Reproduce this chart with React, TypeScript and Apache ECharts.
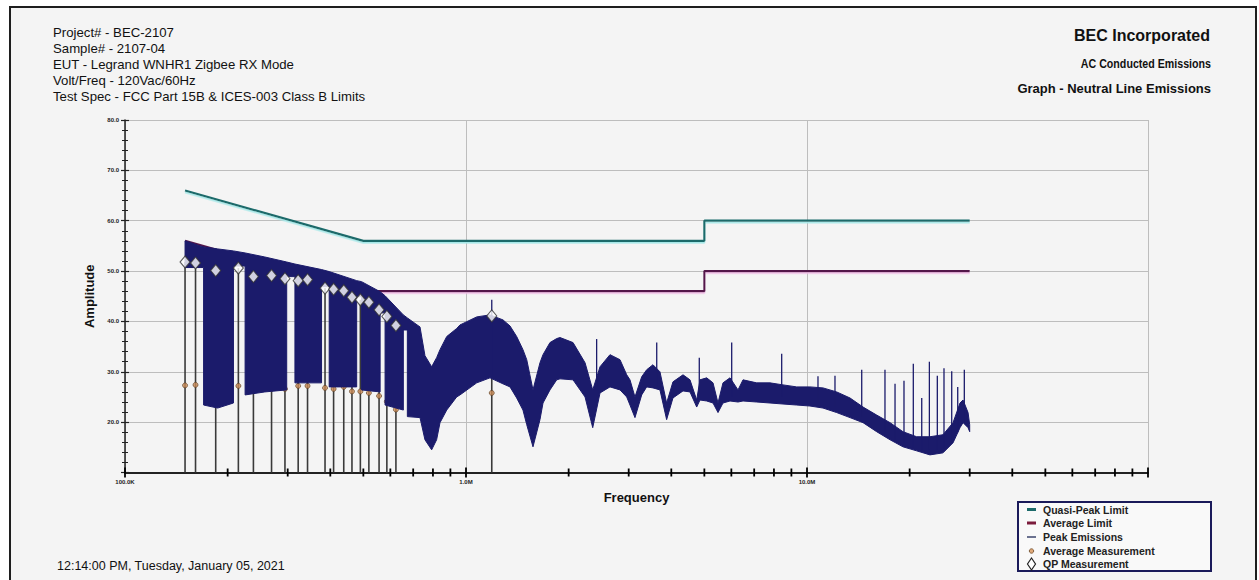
import React, { useEffect, useRef } from 'react';
import * as echarts from 'echarts';

const FONT = 'Liberation Sans, Arial, sans-serif';

// Header / footer texts
const headerLines = [
  'Project# - BEC-2107',
  'Sample# - 2107-04',
  'EUT - Legrand WNHR1 Zigbee RX Mode',
  'Volt/Freq - 120Vac/60Hz',
  'Test Spec - FCC Part 15B & ICES-003 Class B Limits',
];
const companyName = 'BEC Incorporated';
const reportTitle = 'AC Conducted Emissions';
const graphTitle = 'Graph - Neutral Line Emissions';
const timestamp = '12:14:00 PM, Tuesday, January 05, 2021';

// Axis ticks and labels (frequency in MHz, amplitude in dB)
const xMajorTicks = [0.1, 1, 10, 100];
const xTickLabels = ['100.0K', '1.0M', '10.0M', ''];
const xMinorTicks = [
  0.2, 0.3, 0.4, 0.5, 0.6, 0.7, 0.8, 0.9,
  2, 3, 4, 5, 6, 7, 8, 9,
  20, 30, 40, 50, 60, 70, 80, 90,
];

// Limits (MHz, dB)
const limitFreq = [0.15, 0.5, 5, 5, 30];
const qpLimit = [66, 56, 56, 60, 60];
const avgLimit = [56, 46, 46, 50, 50];

// Peak emissions trace: envelope (MHz, upper dB, lower dB)
const peakFreq = [
  0.150, 0.166, 0.170, 0.170, 0.187, 0.208, 0.208, 0.225, 0.225, 0.257,
  0.298, 0.298, 0.315, 0.315, 0.377, 0.377, 0.397, 0.397, 0.478, 0.478,
  0.494, 0.494, 0.560, 0.560, 0.579, 0.579, 0.655, 0.655, 0.673, 0.673,
  0.733, 0.758, 0.793, 0.820, 0.839, 0.878, 0.939, 0.960, 1.075, 1.176,
  1.284, 1.346, 1.408, 1.469, 1.507, 1.572, 1.648, 1.682, 1.763, 1.845,
  1.887, 2.060, 2.234, 2.353, 2.472, 2.644, 2.829, 2.960, 3.026, 3.130,
  3.275, 3.387, 3.534, 3.705, 3.876, 4.045, 4.329, 4.538, 4.748, 4.855,
  5.080, 5.301, 5.483, 5.671, 5.946, 6.276, 6.492, 7.120, 7.791, 8.504,
  9.329, 10.20, 11.14, 12.22, 13.37, 14.60, 16.01, 17.52, 19.12, 20.97,
  22.94, 25.05, 26.81, 28.10, 28.68, 29.67, 30.0,
];
const peakUpper = [
  56.0, 55.0, 54.8, 54.8, 54.4, 54.0, 54.0, 53.6, 53.6, 52.8,
  51.8, 51.8, 51.4, 51.4, 50.3, 50.3, 49.9, 49.9, 48.1, 48.1,
  47.9, 47.9, 45.9, 45.9, 45.1, 45.1, 41.3, 41.3, 40.7, 40.7,
  38.9, 33.2, 31.0, 32.8, 34.4, 37.0, 38.6, 39.3, 40.9, 41.3,
  40.3, 39.1, 37.0, 34.4, 32.4, 26.4, 31.8, 33.4, 35.8, 36.6,
  36.8, 35.8, 31.8, 26.4, 31.0, 33.4, 32.4, 29.4, 28.4, 25.0,
  29.0, 30.4, 31.4, 30.0, 23.8, 28.0, 29.4, 28.4, 24.4, 28.4,
  28.8, 27.8, 23.8, 27.8, 28.8, 26.4, 28.4, 27.8, 27.8, 27.4,
  27.0, 27.0, 26.8, 26.0, 24.8, 23.0, 21.4, 19.9, 18.1, 17.1,
  17.1, 17.5, 19.9, 23.8, 24.4, 21.9, 19.5,
];
const peakLower = [
  50.7, 50.7, 50.7, 23.4, 22.8, 23.8, 51.0, 51.0, 25.4, 26.0,
  26.4, 48.9, 48.9, 27.8, 27.8, 46.9, 46.9, 27.0, 27.0, 44.9,
  44.9, 26.4, 26.0, 41.7, 41.7, 23.4, 22.4, 38.3, 38.3, 21.1,
  20.9, 16.5, 14.5, 16.5, 19.9, 22.4, 25.0, 25.4, 27.8, 28.8,
  27.6, 27.0, 24.8, 22.4, 19.5, 15.1, 20.5, 23.8, 26.4, 28.4,
  28.6, 28.4, 25.0, 18.9, 25.8, 27.0, 26.4, 25.0, 23.4, 20.9,
  25.4, 27.0, 26.8, 26.4, 20.5, 24.8, 26.2, 26.0, 23.0, 24.4,
  24.2, 23.8, 21.9, 23.8, 24.2, 24.0, 24.2, 24.0, 23.8, 23.6,
  23.4, 23.2, 22.8, 21.9, 20.9, 19.9, 18.1, 16.5, 15.1, 14.3,
  13.5, 13.9, 15.9, 18.9, 19.9, 18.9, 18.1,
];

// Narrow peak spikes (MHz, top dB, base dB)
const spikeFreq = [1.19, 2.416, 3.625, 4.832, 6.014, 8.429, 10.77, 12.08, 14.47, 16.93,
  18.12, 19.25, 20.50, 21.70, 22.85, 24.11, 25.22, 26.57, 27.67, 28.93];
const spikeTop = [44.3, 36.5, 35.8, 32.8, 35.8, 33.6, 29.1, 29.2, 30.4, 30.4,
  27.6, 28.2, 31.6, 24.8, 32.0, 29.2, 30.7, 30.1, 27.0, 30.4];
const spikeBase = [29.0, 27.0, 27.0, 25.0, 25.0, 25.0, 24.0, 23.0, 21.0, 18.0,
  16.5, 16.0, 15.0, 14.5, 14.5, 14.5, 15.0, 16.0, 18.0, 20.0];

// Measurements (MHz, dB)
const measFreq = [0.150, 0.161, 0.1845, 0.215, 0.238, 0.269, 0.2945, 0.322, 0.343, 0.386,
  0.409, 0.438, 0.463, 0.490, 0.519, 0.556, 0.586, 0.623, 1.19];
const qpLevel = [51.8, 51.6, 50.1, 50.6, 48.9, 49.1, 48.5, 48.1, 48.3, 46.6,
  46.4, 46.1, 44.8, 44.3, 43.8, 42.3, 41.0, 39.2, 41.1];
const avgLevel = [27.3, 27.4, 26.0, 27.2, 26.2, 26.6, 26.6, 27.2, 27.2, 26.8,
  26.6, 27.0, 26.1, 26.1, 25.8, 25.2, 24.1, 22.5, 25.8];

const legendNames = ['Quasi-Peak Limit', 'Average Limit', 'Peak Emissions', 'Average Measurement', 'QP Measurement'];

const NAVY = '#1b1b6b';
const TEAL = '#1d6b6b';
const PLUM = '#53164a';
const Y_MIN = 10;

function buildOption(): any {
  const legendX = 1018;
  const legendY = 502;
  const rowY = [7.5, 21, 35, 49, 62];
  const legendChildren: any[] = [
    { type: 'rect', shape: { x: 0, y: 0, width: 193, height: 69 }, style: { fill: '#f9f9f9', stroke: '#1a1a5a', lineWidth: 2 } },
    { type: 'line', shape: { x1: 9, y1: rowY[0], x2: 18, y2: rowY[0] }, style: { stroke: TEAL, lineWidth: 3 } },
    { type: 'line', shape: { x1: 9, y1: rowY[1], x2: 18, y2: rowY[1] }, style: { stroke: '#7b1c3c', lineWidth: 3 } },
    { type: 'line', shape: { x1: 9, y1: rowY[2], x2: 18, y2: rowY[2] }, style: { stroke: '#6b7290', lineWidth: 2 } },
    { type: 'circle', shape: { cx: 13.5, cy: rowY[3], r: 2.2 }, style: { fill: '#e0a878', stroke: '#6b4a2a', lineWidth: 0.8 } },
    { type: 'polygon', shape: { points: [[13.5, rowY[4] - 6], [17.5, rowY[4]], [13.5, rowY[4] + 6], [9.5, rowY[4]]] }, style: { fill: '#ffffff', stroke: '#222', lineWidth: 1.2 } },
  ];
  legendNames.forEach((n, i) => {
    legendChildren.push({
      type: 'text', x: 25, y: rowY[i],
      style: { text: n, fontSize: 10.5, fontWeight: 'bold', fontFamily: FONT, fill: '#222', textVerticalAlign: 'middle' },
    });
  });

  const graphic: any[] = [
    { type: 'rect', z: -10, silent: true, shape: { x: 10, y: 7, width: 1246, height: 600 }, style: { fill: '#f4f4f4', stroke: '#1e1e1e', lineWidth: 2 } },
    ...headerLines.map((t, i) => ({
      type: 'text', z: 100, x: 53, y: 32 + i * 16.2,
      style: { text: t, fontSize: 13.2, fontFamily: FONT, fill: '#111', textVerticalAlign: 'middle' },
    })),
    { type: 'text', z: 100, x: 1210, y: 35, style: { text: companyName, fontSize: 16, fontWeight: 'bold', fontFamily: FONT, fill: '#111', textAlign: 'right', textVerticalAlign: 'middle' } },
    { type: 'text', z: 100, x: 1211, y: 64, scaleX: 0.82, style: { text: reportTitle, fontSize: 13, fontWeight: 'bold', fontFamily: FONT, fill: '#111', textAlign: 'right', textVerticalAlign: 'middle' } },
    { type: 'text', z: 100, x: 1211, y: 88, style: { text: graphTitle, fontSize: 13, fontWeight: 'bold', fontFamily: FONT, fill: '#111', textAlign: 'right', textVerticalAlign: 'middle' } },
    { type: 'text', z: 100, x: 57, y: 566, style: { text: timestamp, fontSize: 12.5, fontFamily: FONT, fill: '#111', textVerticalAlign: 'middle' } },
    { type: 'group', z: 100, x: legendX, y: legendY, children: legendChildren },
  ];

  const xTicksData = [
    ...xMajorTicks.map((f) => [f, Y_MIN, 1]),
    ...xMinorTicks.map((f) => [f, Y_MIN, 0]),
  ];

  return {
    animation: false,
    backgroundColor: '#ffffff',
    textStyle: { fontFamily: FONT },
    grid: { left: 125, right: 111, top: 120, bottom: 107.5 },
    xAxis: {
      type: 'log', logBase: 10, min: 0.1, max: 100,
      name: 'Frequency', nameLocation: 'middle', nameGap: 18,
      nameTextStyle: { fontSize: 13, fontWeight: 'bold', color: '#111', fontFamily: FONT },
      axisLine: { show: true, lineStyle: { color: '#222', width: 2 } },
      axisTick: { show: false },
      axisLabel: {
        fontSize: 6, fontWeight: 'bold', color: '#222', margin: 6,
        formatter: (v: number) => {
          const idx = Math.round(Math.log10(v)) + 1;
          return xTickLabels[idx] ?? '';
        },
      },
      splitLine: { show: true, lineStyle: { color: '#bdbdbd', width: 1 } },
    },
    yAxis: [
      {
        type: 'value', min: Y_MIN, max: 80, interval: 10,
        name: 'Amplitude', nameLocation: 'middle', nameGap: 28,
        nameTextStyle: { fontSize: 13, fontWeight: 'bold', color: '#111', fontFamily: FONT },
        axisLine: { show: true, lineStyle: { color: '#222', width: 1.5 } },
        axisTick: { show: true, length: 4, lineStyle: { color: '#222', width: 1.2 } },
        minorTick: { show: true, splitNumber: 5, length: 3, lineStyle: { color: '#222', width: 1 } },
        axisLabel: {
          fontSize: 6, fontWeight: 'bold', color: '#222', margin: 6,
          formatter: (v: number) => (v === Y_MIN ? '' : v.toFixed(1)),
        },
        splitLine: { show: true, lineStyle: { color: '#bdbdbd', width: 1 } },
      },
      {
        type: 'value', min: Y_MIN, max: 80, interval: 10, position: 'left', offset: 0,
        axisLine: { show: false },
        axisTick: { show: true, inside: true, length: 4, lineStyle: { color: '#222', width: 1.2 } },
        minorTick: { show: true, splitNumber: 5, length: 3, lineStyle: { color: '#222', width: 1 } },
        axisLabel: { show: false },
        splitLine: { show: false },
      },
    ],
    series: [
      {
        name: 'x ticks', type: 'custom', z: 8, silent: true, clip: false,
        data: xTicksData,
        encode: { x: 0, y: 1 },
        renderItem: (params: any, api: any) => {
          const p = api.coord([api.value(0), api.value(1)]);
          const h = api.value(2) ? 5 : 4;
          return { type: 'line', shape: { x1: p[0], y1: p[1] - h, x2: p[0], y2: p[1] + h }, style: { stroke: '#000', lineWidth: 1.8 } };
        },
      },
      {
        name: 'QP Stems', type: 'custom', z: 2, silent: true,
        data: measFreq.map((f, i) => [f, qpLevel[i]]),
        renderItem: (params: any, api: any) => {
          const a = api.coord([api.value(0), Y_MIN]);
          const b = api.coord([api.value(0), api.value(1)]);
          return { type: 'line', shape: { x1: a[0], y1: a[1], x2: b[0], y2: b[1] }, style: { stroke: '#3a3a3a', lineWidth: 1.6 } };
        },
      },
      {
        name: 'Average Measurement', type: 'scatter', z: 3,
        symbol: 'circle', symbolSize: 5,
        itemStyle: { color: '#c98a55', borderColor: '#5a3a1c', borderWidth: 0.8 },
        data: measFreq.map((f, i) => [f, avgLevel[i]]),
      },
      {
        name: 'Quasi-Peak Limit', type: 'line', z: 4, showSymbol: false, symbol: 'none',
        lineStyle: { color: TEAL, width: 2.2, shadowColor: '#a6e8e8', shadowBlur: 0, shadowOffsetY: 1.6 },
        data: limitFreq.map((f, i) => [f, qpLimit[i]]),
      },
      {
        name: 'Average Limit', type: 'line', z: 4, showSymbol: false, symbol: 'none',
        lineStyle: { color: PLUM, width: 2.2, shadowColor: '#f2bde8', shadowBlur: 0, shadowOffsetY: 1.6 },
        data: limitFreq.map((f, i) => [f, avgLimit[i]]),
      },
      {
        name: 'Peak Emissions', type: 'custom', z: 5, silent: true,
        data: [[peakFreq[0], peakUpper[0]]],
        renderItem: (params: any, api: any) => {
          if (params.dataIndex !== 0) return null;
          const pts: number[][] = [];
          for (let i = 0; i < peakFreq.length; i++) pts.push(api.coord([peakFreq[i], peakUpper[i]]));
          for (let i = peakFreq.length - 1; i >= 0; i--) pts.push(api.coord([peakFreq[i], peakLower[i]]));
          return { type: 'polygon', shape: { points: pts }, style: { fill: NAVY, stroke: NAVY, lineWidth: 1 } };
        },
      },
      {
        name: 'Peak Spikes', type: 'custom', z: 5, silent: true,
        data: spikeFreq.map((f, i) => [f, spikeTop[i], spikeBase[i]]),
        encode: { x: 0, y: [1, 2] },
        renderItem: (params: any, api: any) => {
          const a = api.coord([api.value(0), api.value(1)]);
          const b = api.coord([api.value(0), api.value(2)]);
          return { type: 'line', shape: { x1: a[0], y1: a[1], x2: b[0], y2: b[1] }, style: { stroke: NAVY, lineWidth: 1.3 } };
        },
      },
      {
        name: 'QP Measurement', type: 'scatter', z: 7,
        symbol: 'diamond', symbolSize: [10, 12],
        itemStyle: { color: '#ffffff', borderColor: '#333', borderWidth: 1.1 },
        data: measFreq.map((f, i) => [f, qpLevel[i]]),
      },
    ],
    graphic,
  };
}

export default function App() {
  const ref = useRef<HTMLDivElement>(null);
  useEffect(() => {
    document.body.style.margin = '0';
    const chart = echarts.init(ref.current as HTMLDivElement, undefined, { renderer: 'svg' });
    chart.setOption(buildOption());
    return () => chart.dispose();
  }, []);
  return <div ref={ref} style={{ width: 1259, height: 580 }} />;
}
